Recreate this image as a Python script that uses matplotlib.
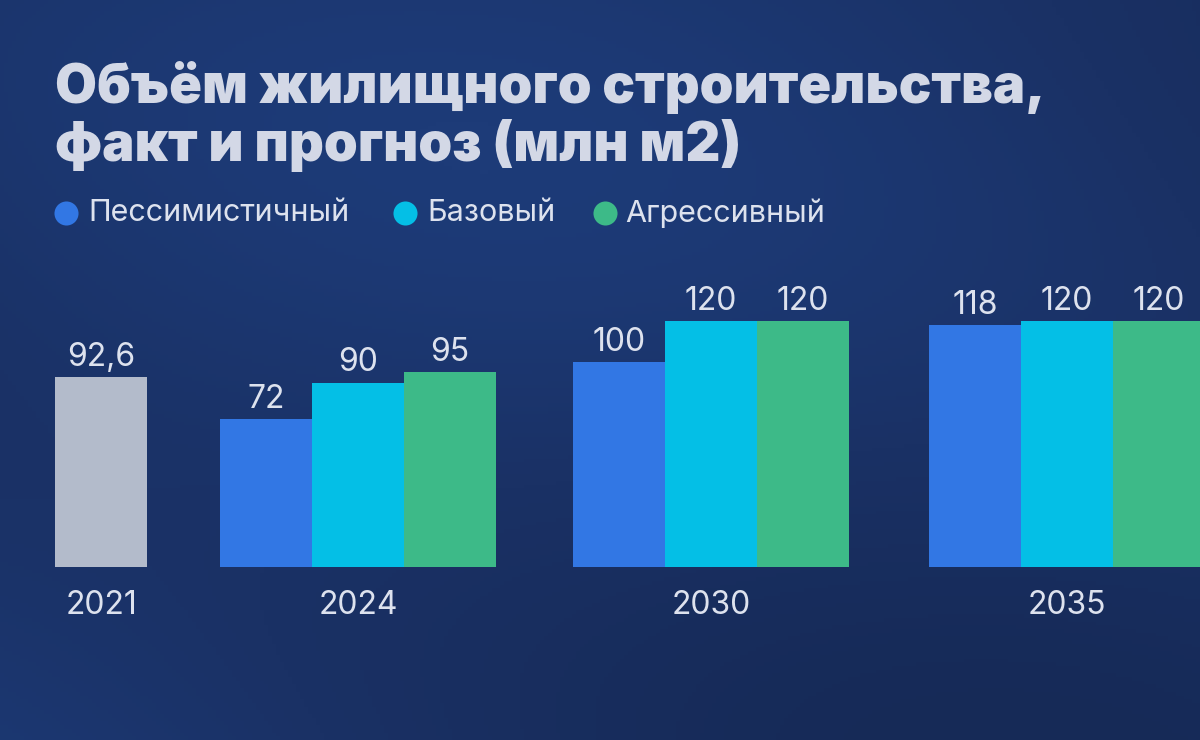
import numpy as np
import matplotlib
matplotlib.use('Agg')
import matplotlib.pyplot as plt

plt.rcParams['font.family'] = ['Inter', 'DejaVu Sans']

# данные
years = ['2021', '2024', '2030', '2035']
fact_2021 = 92.6
scenarios = ['Пессимистичный', 'Базовый', 'Агрессивный']
pessim = [72, 100, 118]
base = [90, 120, 120]
aggr = [95, 120, 120]
value_labels_fact = '92,6'

col_fact = '#b3bbcb'
col_scen = ['#3277e4', '#04bfe6', '#3dba88']
txt_col = '#dde2ee'

W, H = 1200, 740
fig = plt.figure(figsize=(W / 100, H / 100), dpi=100)

# фон - тёмно-синий градиент
bg = fig.add_axes([0, 0, 1, 1])
yy, xx = np.mgrid[0:1:200j, 0:1:300j]
grad = 0.55 + 0.25 * np.sin(3.0 * xx + 2.0 * yy) + 0.2 * np.cos(5.0 * yy - 2.5 * xx)
bg.imshow(grad, cmap=matplotlib.colors.LinearSegmentedColormap.from_list(
    'bgc', ['#162a57', '#1a3165', '#1d3b78']), extent=[0, 1, 0, 1], aspect='auto')
bg.set_xlim(0, 1)
bg.set_ylim(0, 1)
bg.axis('off')

# оси для столбцов: 1 единица по x = ширина столбца (92 px)
bw_px = 92.0
base_px = 567.0
px_per_unit = 2.05
ax = fig.add_axes([0, (H - base_px) / H, 1, base_px / H])
ax.set_xlim(0, W / bw_px)
ax.set_ylim(0, base_px / px_per_unit)
ax.axis('off')
ax.patch.set_alpha(0)

pos_fact = 101 / bw_px
group_centers = np.array([358, 711, 1067]) / bw_px

ax.bar(pos_fact, fact_2021, width=1.0, color=col_fact)
ax.annotate(value_labels_fact, (pos_fact, fact_2021), xytext=(0, 3), textcoords='offset points',
            ha='center', va='bottom', fontsize=23, color=txt_col)

series = [pessim, base, aggr]
for i, vals in enumerate(series):
    xs = group_centers + (i - 1) * 1.0
    ax.bar(xs, vals, width=1.0, color=col_scen[i])
    for x, v in zip(xs, vals):
        ax.annotate(str(v), (x, v), xytext=(0, 3), textcoords='offset points',
                    ha='center', va='bottom', fontsize=23, color=txt_col)

# подписи годов
for x, yr in zip([pos_fact] + list(group_centers), years):
    fig.text(x * bw_px / W, 1 - 606 / H, yr, ha='center', va='center',
             fontsize=23, color=txt_col)

# заголовок
fig.text(55 / W, 1 - 88 / H, 'Объём жилищного строительства,', ha='left', va='center',
         fontsize=39, fontweight='black', color='#d3d8e6')
fig.text(55 / W, 1 - 145 / H, 'факт и прогноз (млн м2)', ha='left', va='center',
         fontsize=39, fontweight='black', color='#d3d8e6')

# легенда
leg_dots = [66, 405, 605]
leg_text = [88, 427, 625]
for dx, tx, name, c in zip(leg_dots, leg_text, scenarios, col_scen):
    bg.scatter([dx / W], [1 - 213 / H], s=300, color=c, marker='o', linewidths=0)
    fig.text(tx / W, 1 - 213 / H, name, ha='left', va='center', fontsize=22, color=txt_col)

fig.savefig('out.png', dpi=100)
